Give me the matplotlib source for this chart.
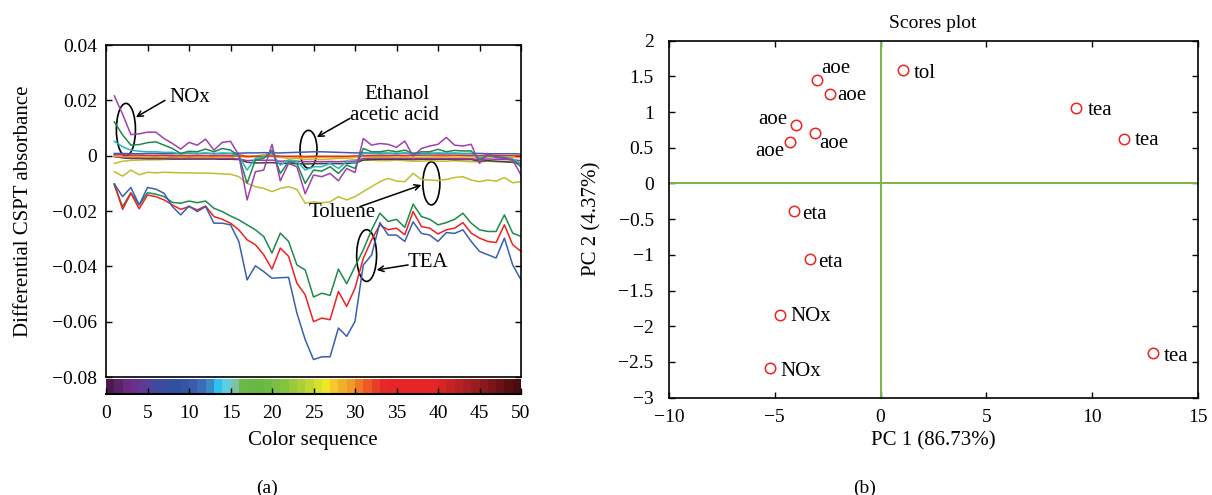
import matplotlib
matplotlib.use("Agg")
import matplotlib.pyplot as plt
import numpy as np
from matplotlib.patches import Ellipse
from matplotlib.ticker import FuncFormatter

plt.rcParams["font.family"] = ["Liberation Serif", "DejaVu Serif"]
plt.rcParams["axes.unicode_minus"] = True

# ---- panel (a): differential CSPT absorbance vs colour index ----
seq = list(range(1, 51))

tea_blue = [-0.0102, -0.0148, -0.0115, -0.0178, -0.0115, -0.0121, -0.0136, -0.0184, -0.0214, -0.0182,
            -0.0202, -0.0184, -0.0244, -0.0244, -0.0250, -0.0310, -0.0449, -0.0398, -0.0419, -0.0443,
            -0.0441, -0.0440, -0.0569, -0.0665, -0.0737, -0.0727, -0.0727, -0.0623, -0.0653, -0.0599,
            -0.0395, -0.0359, -0.0242, -0.0287, -0.0287, -0.0310, -0.0239, -0.0281, -0.0287, -0.0310,
            -0.0278, -0.0281, -0.0268, -0.0310, -0.0346, -0.0358, -0.0370, -0.0298, -0.0395, -0.0449]
tea_red = [-0.0102, -0.0194, -0.0136, -0.0192, -0.0142, -0.0148, -0.0160, -0.0178, -0.0194, -0.0184,
           -0.0196, -0.0182, -0.0220, -0.0230, -0.0244, -0.0268, -0.0304, -0.0322, -0.0358, -0.0410,
           -0.0334, -0.0364, -0.0461, -0.0503, -0.0600, -0.0587, -0.0593, -0.0491, -0.0545, -0.0479,
           -0.0371, -0.0304, -0.0250, -0.0268, -0.0262, -0.0286, -0.0202, -0.0256, -0.0262, -0.0283,
           -0.0268, -0.0262, -0.0242, -0.0280, -0.0298, -0.0310, -0.0314, -0.0250, -0.0322, -0.0346]
tea_green = [-0.0106, -0.0184, -0.0134, -0.0178, -0.0134, -0.0139, -0.0148, -0.0169, -0.0172, -0.0164,
             -0.0170, -0.0164, -0.0190, -0.0202, -0.0218, -0.0232, -0.0250, -0.0268, -0.0292, -0.0352,
             -0.0280, -0.0310, -0.0395, -0.0413, -0.0511, -0.0497, -0.0505, -0.0410, -0.0463, -0.0401,
             -0.0340, -0.0268, -0.0208, -0.0238, -0.0230, -0.0259, -0.0175, -0.0220, -0.0230, -0.0250,
             -0.0242, -0.0230, -0.0208, -0.0244, -0.0268, -0.0274, -0.0274, -0.0214, -0.0280, -0.0292]

nox_magenta = [0.0216, 0.0150, 0.0076, 0.0079, 0.0085, 0.0085, 0.0062, 0.0044, 0.0024, 0.0048,
               0.0038, 0.0060, 0.0020, 0.0048, 0.0052, 0.0002, -0.0160, -0.0058, -0.0052, 0.0041,
               -0.0091, -0.0028, -0.0040, -0.0138, -0.0070, -0.0076, -0.0064, -0.0091, -0.0046, -0.0061,
               0.0062, 0.0038, 0.0044, 0.0041, 0.0030, 0.0053, -0.0002, 0.0026, 0.0035, 0.0041,
               0.0066, 0.0038, 0.0035, 0.0041, -0.0028, 0.0008, -0.0007, -0.0010, -0.0016, -0.0070]
nox_green = [0.0122, 0.0075, 0.0038, 0.0040, 0.0047, 0.0050, 0.0038, 0.0026, 0.0008, 0.0016,
             0.0014, 0.0024, 0.0014, 0.0026, 0.0020, 0.0000, -0.0100, -0.0016, -0.0010, 0.0020,
             -0.0064, -0.0022, -0.0028, -0.0100, -0.0052, -0.0056, -0.0040, -0.0064, -0.0034, -0.0046,
             0.0026, 0.0014, 0.0014, 0.0019, 0.0014, 0.0020, 0.0008, 0.0014, 0.0014, 0.0023,
             0.0014, 0.0019, 0.0017, 0.0017, -0.0014, 0.0000, -0.0004, -0.0007, -0.0016, -0.0040]
nox_cyan = [0.0052, 0.0032, 0.0020, 0.0016, 0.0014, 0.0014, 0.0012, 0.0012, 0.0006, 0.0010,
            0.0008, 0.0010, 0.0006, 0.0010, 0.0008, -0.0001, -0.0052, -0.0010, -0.0004, 0.0008,
            -0.0034, -0.0016, -0.0020, -0.0052, -0.0040, -0.0040, -0.0028, -0.0046, -0.0022, -0.0028,
            0.0008, 0.0008, 0.0006, 0.0008, 0.0006, 0.0010, 0.0004, 0.0006, 0.0006, 0.0010,
            0.0008, 0.0008, 0.0006, 0.0008, -0.0008, 0.0000, -0.0004, -0.0006, -0.0012, -0.0030]

tol_low = [-0.0058, -0.0074, -0.0052, -0.0069, -0.0060, -0.0062, -0.0060, -0.0061, -0.0062, -0.0062,
           -0.0063, -0.0063, -0.0064, -0.0066, -0.0067, -0.0076, -0.0100, -0.0112, -0.0118, -0.0130,
           -0.0118, -0.0112, -0.0122, -0.0172, -0.0167, -0.0170, -0.0167, -0.0148, -0.0160, -0.0148,
           -0.0130, -0.0112, -0.0094, -0.0082, -0.0092, -0.0094, -0.0064, -0.0086, -0.0088, -0.0090,
           -0.0086, -0.0079, -0.0076, -0.0088, -0.0094, -0.0088, -0.0092, -0.0079, -0.0098, -0.0094]
tol_high = [-0.0028, -0.0020, -0.0017, -0.0016, -0.0015, -0.0015, -0.0014, -0.0013, -0.0013, -0.0012,
            -0.0012, -0.0012, -0.0011, -0.0011, -0.0010, 0.0006, -0.0004, -0.0002, 0.0004, 0.0006,
            -0.0004, -0.0012, -0.0010, -0.0014, -0.0012, -0.0014, -0.0012, -0.0010, -0.0010, -0.0014,
            -0.0016, -0.0016, -0.0018, -0.0018, -0.0016, -0.0018, -0.0020, -0.0020, -0.0018, -0.0020,
            -0.0020, -0.0018, -0.0020, -0.0022, -0.0022, -0.0020, -0.0022, -0.0022, -0.0024, -0.0024]

eth_blue = [0.0008, 0.0008, 0.0007, 0.0007, 0.0008, 0.0008, 0.0007, 0.0007, 0.0008, 0.0008,
            0.0007, 0.0008, 0.0008, 0.0007, 0.0008, 0.0009, 0.0010, 0.0010, 0.0011, 0.0010,
            0.0010, 0.0011, 0.0012, 0.0013, 0.0014, 0.0014, 0.0013, 0.0012, 0.0011, 0.0010,
            0.0010, 0.0009, 0.0009, 0.0009, 0.0008, 0.0009, 0.0008, 0.0008, 0.0009, 0.0008,
            0.0008, 0.0009, 0.0008, 0.0008, 0.0008, 0.0007, 0.0007, 0.0007, 0.0007, 0.0006]
eth_red = [0.0004, 0.0003, 0.0002, 0.0002, 0.0001, 0.0001, 0.0001, 0.0000, 0.0000, 0.0000,
           0.0000, 0.0000, 0.0000, 0.0000, 0.0000, 0.0000, -0.0002, -0.0002, -0.0002, -0.0001,
           -0.0002, -0.0002, -0.0002, -0.0003, -0.0002, -0.0002, -0.0002, -0.0002, -0.0002, -0.0001,
           0.0000, 0.0001, 0.0001, 0.0001, 0.0001, 0.0001, 0.0001, 0.0002, 0.0002, 0.0002,
           0.0002, 0.0002, 0.0001, 0.0001, 0.0000, 0.0002, 0.0001, 0.0000, 0.0000, -0.0001]
eth_orange = [-0.0002, -0.0003, -0.0004, -0.0004, -0.0005, -0.0004, -0.0005, -0.0004, -0.0005, -0.0004,
              -0.0005, -0.0005, -0.0004, -0.0005, -0.0004, -0.0003, -0.0006, -0.0004, -0.0005, -0.0003,
              -0.0006, -0.0005, -0.0006, -0.0007, -0.0006, -0.0006, -0.0005, -0.0006, -0.0005, -0.0005,
              -0.0003, -0.0004, -0.0004, -0.0004, -0.0005, -0.0004, -0.0006, -0.0005, -0.0005, -0.0004,
              -0.0004, -0.0005, -0.0005, -0.0004, -0.0006, -0.0005, -0.0005, -0.0006, -0.0006, -0.0007]
eth_purple = [-0.0004, -0.0006, -0.0007, -0.0007, -0.0007, -0.0008, -0.0008, -0.0008, -0.0009, -0.0008,
              -0.0009, -0.0009, -0.0009, -0.0010, -0.0010, -0.0012, -0.0018, -0.0016, -0.0017, -0.0016,
              -0.0020, -0.0019, -0.0020, -0.0022, -0.0021, -0.0022, -0.0021, -0.0022, -0.0020, -0.0020,
              -0.0010, -0.0009, -0.0009, -0.0009, -0.0010, -0.0009, -0.0011, -0.0010, -0.0010, -0.0010,
              -0.0010, -0.0011, -0.0011, -0.0011, -0.0014, -0.0012, -0.0013, -0.0014, -0.0015, -0.0018]
eth_gray = [-0.0002, -0.0008, -0.0010, -0.0010, -0.0011, -0.0011, -0.0011, -0.0012, -0.0012, -0.0012,
            -0.0012, -0.0012, -0.0012, -0.0013, -0.0013, -0.0014, -0.0024, -0.0026, -0.0026, -0.0025,
            -0.0028, -0.0028, -0.0029, -0.0030, -0.0029, -0.0029, -0.0028, -0.0029, -0.0028, -0.0027,
            -0.0016, -0.0014, -0.0013, -0.0013, -0.0013, -0.0013, -0.0014, -0.0013, -0.0013, -0.0013,
            -0.0013, -0.0014, -0.0014, -0.0014, -0.0020, -0.0018, -0.0020, -0.0022, -0.0024, -0.0030]

# colour sequence shown under panel (a), one cell per index 0..49
seq_colors = ["#4a1a4f", "#5a2365", "#6a2a80", "#6a3090", "#5e3a95", "#4a449a", "#3d4a9e", "#3550a0",
              "#3050a0", "#3355a5", "#3a5cb0", "#3b6cb8", "#3b8ac8", "#30c0ef", "#5ecde0", "#7ec2a0",
              "#6db84a", "#6ab844", "#66b840", "#6cbb42", "#7abe44", "#86c440", "#9bc93c", "#a9d038",
              "#c0d833", "#d8e030", "#f0e628", "#f4c82a", "#f2b02a", "#f09a28", "#ee7a26", "#ec5a25",
              "#e93e26", "#e62828", "#e62626", "#e62626", "#e62626", "#e62626", "#e62626", "#e42626",
              "#d82426", "#c82224", "#b82024", "#a81e22", "#981c20", "#881a1e", "#781619", "#681214",
              "#580e10", "#4a0c0e"]

# ---- panel (b): PCA scores ----
pc1 = [-3.02, -2.39, -4.01, -3.11, -4.29, 1.07, 9.25, 11.48, 12.87, -4.09, -3.36, -4.75, -5.22]
pc2 = [1.455, 1.249, 0.825, 0.709, 0.583, 1.585, 1.06, 0.625, -2.37, -0.387, -1.063, -1.846, -2.578]
names = ["aoe", "aoe", "aoe", "aoe", "aoe", "tol", "tea", "tea", "tea", "eta", "eta", "NOx", "NOx"]
# label offsets (points) per score
offs = [(3.4, 7.7), (5.3, -1), (-6, 3.4), (3.1, -7.4), (-4.1, -6.7), (7.7, -2.2), (8.4, -1.9),
        (7.9, -1.2), (7.7, -2.4), (5.5, -2.4), (6.5, -2.4), (7.2, -0.7), (7.7, -2.6)]

FS = 15
TFS = 14

fig = plt.figure(figsize=(12.12, 4.95), dpi=100)

# panel (a)
ax = fig.add_axes([106 / 1212, 1 - 377 / 495, 415 / 1212, 332 / 495])
ax.plot(seq, tol_high, color="#c2bd30", lw=1.1)
ax.plot(seq, tol_low, color="#c2bd30", lw=1.1)
ax.plot(seq, eth_gray, color="#404040", lw=1.1)
ax.plot(seq, eth_purple, color="#9a3aa0", lw=1.1)
ax.plot(seq, eth_orange, color="#e8a020", lw=1.1)
ax.plot(seq, eth_red, color="#e82a2a", lw=1.1)
ax.plot(seq, eth_blue, color="#3a5fb0", lw=1.1)
ax.plot(seq, nox_cyan, color="#22b8c0", lw=1.1)
ax.plot(seq, nox_green, color="#1f8a4a", lw=1.1)
ax.plot(seq, nox_magenta, color="#a040b0", lw=1.1)
ax.plot(seq, tea_green, color="#1f8a4a", lw=1.1)
ax.plot(seq, tea_red, color="#ee2222", lw=1.1)
ax.plot(seq, tea_blue, color="#3a5fb0", lw=1.1)
ax.set_xlim(0, 50)
ax.set_ylim(-0.08, 0.04)
ax.set_yticks(np.arange(-0.08, 0.041, 0.02))
ax.yaxis.set_major_formatter(FuncFormatter(lambda v, p: "0" if abs(v) < 1e-9 else f"{v:.2f}".replace("-", "\u2212")))
ax.set_xticks(range(0, 51, 5))
ax.tick_params(direction="in", top=True, right=True, bottom=False, labelbottom=False,
               labelsize=TFS, length=4, width=1, pad=6.5)
ax.set_ylabel("Differential CSPT absorbance", fontsize=FS)
ax.yaxis.set_label_coords(-0.176, 0.5)

# annotations: ellipses + arrows
for cx, cy, w, h in [(2.4, 0.0094, 2.3, 0.019), (24.4, 0.0023, 2.05, 0.0137),
                     (39.2, -0.0100, 2.05, 0.0156), (31.4, -0.0361, 2.4, 0.0187)]:
    ax.add_patch(Ellipse((cx, cy), w, h, fill=False, ec="black", lw=1.2))
arrow = dict(arrowstyle="->", color="black", lw=1.1, shrinkA=0, shrinkB=0)
ax.annotate("", xy=(3.6, 0.0139), xytext=(7.1, 0.0200), arrowprops=arrow)
ax.annotate("", xy=(25.4, 0.0067), xytext=(29.4, 0.0135), arrowprops=arrow)
ax.annotate("", xy=(38.0, -0.0106), xytext=(30.6, -0.0184), arrowprops=arrow)
ax.annotate("", xy=(32.6, -0.0413), xytext=(36.4, -0.0395), arrowprops=arrow)
ax.text(10.1, 0.0211, "NOx", fontsize=FS, ha="center", va="center")
ax.text(35.0, 0.0222, "Ethanol", fontsize=FS, ha="center", va="center")
ax.text(34.8, 0.0146, "acetic acid", fontsize=FS, ha="center", va="center")
ax.text(28.4, -0.0207, "Toluene", fontsize=FS, ha="center", va="center")
ax.text(38.8, -0.0387, "TEA", fontsize=FS, ha="center", va="center")

# colour sequence strip
cax = fig.add_axes([106 / 1212, 1 - 394 / 495, 415 / 1212, 15 / 495])
cax.bar(np.arange(len(seq_colors)), np.ones(len(seq_colors)), width=1.0, align="edge",
        color=seq_colors, edgecolor="none")
cax.set_xlim(0, 50)
cax.set_ylim(0, 1)
cax.set_yticks([])
cax.set_xticks(range(0, 51, 5))
cax.tick_params(direction="in", labelsize=TFS, length=4, width=1, pad=8)
for s in ["top", "left", "right"]:
    cax.spines[s].set_visible(False)
cax.spines["bottom"].set_linewidth(1.5)
fig.text(313 / 1212, 1 - 441 / 495, "Color sequence", fontsize=FS, ha="center", va="center")
fig.text(267 / 1212, 1 - 488 / 495, "(a)", fontsize=FS - 1, ha="center", va="center")

# panel (b)
bx = fig.add_axes([669 / 1212, 1 - 397.7 / 495, 529 / 1212, 357 / 495])
bx.axvline(0, color="#7ab648", lw=1.4)
bx.axhline(0, color="#7ab648", lw=1.4)
bx.plot(pc1, pc2, "o", ms=7.5, mfc="none", mec="#ee2222", mew=1.1)
for x, y, n, (dx, dy) in zip(pc1, pc2, names, offs):
    bx.annotate(n, (x, y), xytext=(dx, dy), textcoords="offset points",
                ha="right" if dx < -1 else "left", va="center", fontsize=FS)
bx.set_xlim(-10, 15)
bx.set_ylim(-3, 2)
bx.set_xticks(range(-10, 16, 5))
bx.set_yticks(np.arange(-3, 2.01, 0.5))
bx.xaxis.set_major_formatter(FuncFormatter(lambda v, p: f"{v:g}".replace("-", "\u2212")))
bx.yaxis.set_major_formatter(FuncFormatter(lambda v, p: f"{v:g}".replace("-", "\u2212")))
bx.tick_params(direction="in", top=True, right=True, labelsize=TFS, length=4, width=1)
bx.tick_params(axis="x", pad=8)
bx.tick_params(axis="y", pad=11)
bx.set_xlabel("PC 1 (86.73%)", fontsize=FS)
bx.xaxis.set_label_coords(0.5, -0.093)
bx.set_ylabel("PC 2 (4.37%)", fontsize=FS)
bx.yaxis.set_label_coords(-0.127, 0.5)
fig.text(933 / 1212, 1 - 23 / 495, "Scores plot", fontsize=FS - 1, ha="center", va="center")
fig.text(865 / 1212, 1 - 488 / 495, "(b)", fontsize=FS - 1, ha="center", va="center")

for a in (ax, bx):
    for s in a.spines.values():
        s.set_linewidth(1.2)

fig.savefig("out.png", dpi=100)
